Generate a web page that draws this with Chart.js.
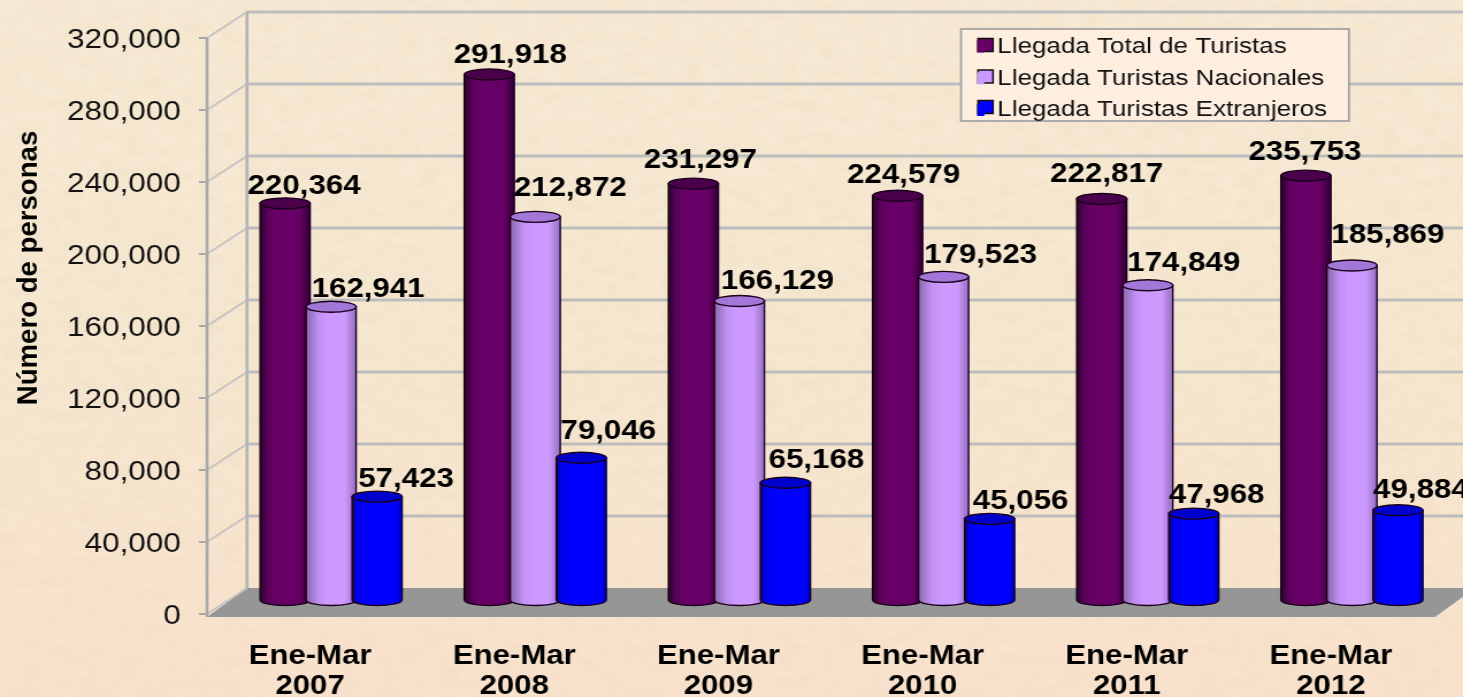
<!DOCTYPE html>
<html lang="es">
<head>
<meta charset="utf-8">
<script src="https://cdn.jsdelivr.net/npm/chart.js@4"></script>
<style>
html,body{margin:0;padding:0;width:1463px;height:697px;overflow:hidden;}
body{
  background-image:
    url("data:image/svg+xml;utf8,<svg xmlns='http://www.w3.org/2000/svg' width='1463' height='697'><filter id='n'><feTurbulence type='fractalNoise' baseFrequency='0.05 0.09' numOctaves='3' seed='4'/><feColorMatrix values='0 0 0 0 0.72  0 0 0 0 0.55  0 0 0 0 0.38  0 0 0 0.55 -0.2'/></filter><rect width='1463' height='697' filter='url(%23n)' opacity='0.5'/></svg>"),
    linear-gradient(180deg,#f6e9d3 0%,#f6e7d0 50%,#f9e2cd 100%);
}
#wrap{position:absolute;left:0;top:0;width:1272px;height:697px;transform-origin:0 0;transform:scaleX(1.15016);}
canvas{display:block;}
</style>
</head>
<body>
<div id="wrap"><canvas id="c" width="1272" height="697"></canvas></div>
<script>
const categories = [["Ene-Mar","2007"],["Ene-Mar","2008"],["Ene-Mar","2009"],["Ene-Mar","2010"],["Ene-Mar","2011"],["Ene-Mar","2012"]];
const totalTuristas = [220364,291918,231297,224579,222817,235753];
const nacionales    = [162941,212872,166129,179523,174849,185869];
const extranjeros   = [57423,79046,65168,45056,47968,49884];
const yTicks = [0,40000,80000,120000,160000,200000,240000,280000,320000];
const seriesNames = ["Llegada Total de Turistas","Llegada Turistas Nacionales","Llegada Turistas Extranjeros"];
const axisTitle = "Número de personas";

// horizontal stretch of the picture
const XS = 1.15016;
// label nudges relative to each bar top (one row per series)
const labelDx = [[19,21,7,6,5,-1],[37,35,38,37,36,36],[29,27,31,31,23,23]];
const labelDy = [[-17,-19,-23,-20,-24,-23],[-17,-28,-19,-21,-22,-30],[-17,-26,-22,-17,-18,-20]];

const looks = [
  {base:"#660066",cap:"#4a004a",stops:[[0,"#2e002e"],[.16,"#5c005c"],[.3,"#660066"],[.78,"#660066"],[1,"#300030"]]},
  {base:"#cc99ff",cap:"#a377d8",stops:[[0,"#8a68ae"],[.25,"#c090f2"],[.42,"#cc99ff"],[.78,"#cc99ff"],[1,"#9470b8"]]},
  {base:"#0000ff",cap:"#0000cc",stops:[[0,"#000090"],[.1,"#0000f0"],[.3,"#0000ff"],[.88,"#0000ff"],[1,"#000090"]]}
];
const DX = 40/XS, DY = 26, AXIS_X = 207/XS, RY = 5.5;

const scenery = {
  id:"scenery",
  beforeDraw(chart){
    const {ctx, scales:{y}} = chart;
    const right = chart.width + 10;
    ctx.save();
    // floor
    const y0 = y.getPixelForValue(0);
    ctx.fillStyle="#969696";
    ctx.beginPath();
    ctx.moveTo(AXIS_X,y0+3);
    ctx.lineTo(1435/XS,y0+3);
    ctx.lineTo(1475/XS,y0-DY);
    ctx.lineTo(AXIS_X+DX,y0-DY);
    ctx.closePath();ctx.fill();
    // back wall lines and left diagonals
    yTicks.forEach(v=>{
      const p=y.getPixelForValue(v);
      if(v>0){
        ctx.strokeStyle="#bdbdbd";ctx.lineWidth=3.2;
        ctx.beginPath();ctx.moveTo(AXIS_X+DX,p-DY);ctx.lineTo(right,p-DY);ctx.stroke();
      }
      ctx.strokeStyle="#c4c4c4";ctx.lineWidth=2;
      ctx.beginPath();ctx.moveTo(AXIS_X,p);ctx.lineTo(AXIS_X+DX,p-DY);ctx.stroke();
      ctx.strokeStyle="#a6a6a6";ctx.lineWidth=2;
      ctx.beginPath();ctx.moveTo(AXIS_X-7,p);ctx.lineTo(AXIS_X,p);ctx.stroke();
    });
    ctx.strokeStyle="#a9a9a9";ctx.lineWidth=2.6;
    ctx.beginPath();ctx.moveTo(AXIS_X,y.getPixelForValue(320000));ctx.lineTo(AXIS_X,y0+3);ctx.stroke();
    ctx.strokeStyle="#b4b4b4";
    ctx.beginPath();ctx.moveTo(AXIS_X+DX,y.getPixelForValue(320000)-DY);ctx.lineTo(AXIS_X+DX,y0-DY);ctx.stroke();
    // legend frame and swatches
    const L=chart.legend, lx=961/XS, lw=388/XS, sx=978/XS, sw=15/XS;
    L.left=sx-10;L.right=lx+lw;L.top=26;L.bottom=500;L.width=L.right-L.left;L.height=474;
    ctx.fillStyle="#fdeee0";ctx.strokeStyle="#a3a3a3";ctx.lineWidth=1.8;
    ctx.fillRect(lx,29,lw,92);ctx.strokeRect(lx,29,lw,92);
    [45,76.5,107].forEach((cy,i)=>{
      ctx.fillStyle=looks[i].base;ctx.strokeStyle="#111";ctx.lineWidth=1.5;
      ctx.fillRect(sx,cy-6.5,sw,13);ctx.strokeRect(sx,cy-6.5,sw,13);
    });
    // rotated axis title
    ctx.translate(30/XS,268);ctx.rotate(-Math.PI/2);ctx.scale(1.2,1);
    ctx.fillStyle="#000";ctx.font="bold 23px 'Liberation Sans'";ctx.textAlign="center";ctx.textBaseline="middle";
    ctx.fillText(axisTitle,0,0);
    ctx.restore();
  },
  afterDatasetsDraw(chart){
    const {ctx}=chart;
    [0,1,2].forEach(d=>{
      chart.getDatasetMeta(d).data.forEach(b=>{
        const l=b.x-b.width/2, r=b.x+b.width/2, rx=b.width/2;
        const g=ctx.createLinearGradient(l,0,r,0);
        looks[d].stops.forEach(s=>g.addColorStop(s[0],s[1]));
        ctx.save();
        ctx.lineWidth=1.4;ctx.strokeStyle="#1a001a";
        ctx.beginPath();
        ctx.moveTo(l,b.y);ctx.lineTo(l,b.base);
        ctx.ellipse(b.x,b.base,rx,RY,0,Math.PI,0,true);
        ctx.lineTo(r,b.y);
        ctx.closePath();
        ctx.fillStyle=g;ctx.fill();ctx.stroke();
        ctx.beginPath();ctx.ellipse(b.x,b.y,rx,RY,0,0,Math.PI*2);
        ctx.fillStyle=looks[d].cap;ctx.fill();ctx.stroke();
        ctx.restore();
      });
    });
    // value labels
    ctx.save();
    ctx.font="bold 27.2px 'Liberation Sans'";ctx.fillStyle="#000";ctx.textAlign="center";ctx.textBaseline="middle";
    [0,1,2].forEach(d=>{
      chart.getDatasetMeta(d).data.forEach((b,i)=>{
        const v=chart.data.datasets[d].data[i];
        ctx.fillText(v.toLocaleString("en-US"),b.x+labelDx[d][i]/XS,b.y+labelDy[d][i]);
      });
    });
    ctx.restore();
  }
};

function ds(label,data,i){
  return {label,data,backgroundColor:looks[i].base,borderWidth:0,yAxisID:"yBar",
    categoryPercentage:0.676,barPercentage:1.087};
}

new Chart(document.getElementById("c"),{
  type:"bar",
  data:{labels:categories,datasets:[
    ds(seriesNames[0],totalTuristas,0),
    ds(seriesNames[1],nacionales,1),
    ds(seriesNames[2],extranjeros,2)
  ]},
  plugins:[scenery],
  options:{
    responsive:false,animation:false,
    layout:{padding:{left:0,right:1272-1454/XS,top:38,bottom:0}},
    plugins:{
      title:{display:false},tooltip:{enabled:false},
      legend:{position:"chartArea",align:"start",
        labels:{boxWidth:6.3,boxHeight:12,padding:9.2,color:"#111",
          font:{family:"'Liberation Sans'",size:22.6}}}
    },
    scales:{
      x:{
        grid:{display:false},border:{display:false},
        ticks:{color:"#000",padding:20,maxRotation:0,autoSkip:false,labelOffset:-21/XS,
          font:{family:"'Liberation Sans'",size:27.1,weight:"bold",lineHeight:1.1}},
        afterFit(s){s.height=83;s.paddingLeft=0;s.paddingRight=0;}
      },
      y:{
        position:"left",min:0,max:320000,
        grid:{display:false},border:{display:false},
        ticks:{stepSize:40000,color:"#111",padding:(229-190)/XS,labelOffset:2.5,
          font:{family:"'Liberation Sans'",size:27.4},
          callback:v=>v.toLocaleString("en-US")},
        afterFit(s){s.width=229/XS;s.paddingTop=0;s.paddingBottom=0;}
      },
      yBar:{display:false,min:-7778,max:312222}
    }
  }
});
</script>
</body>
</html>
